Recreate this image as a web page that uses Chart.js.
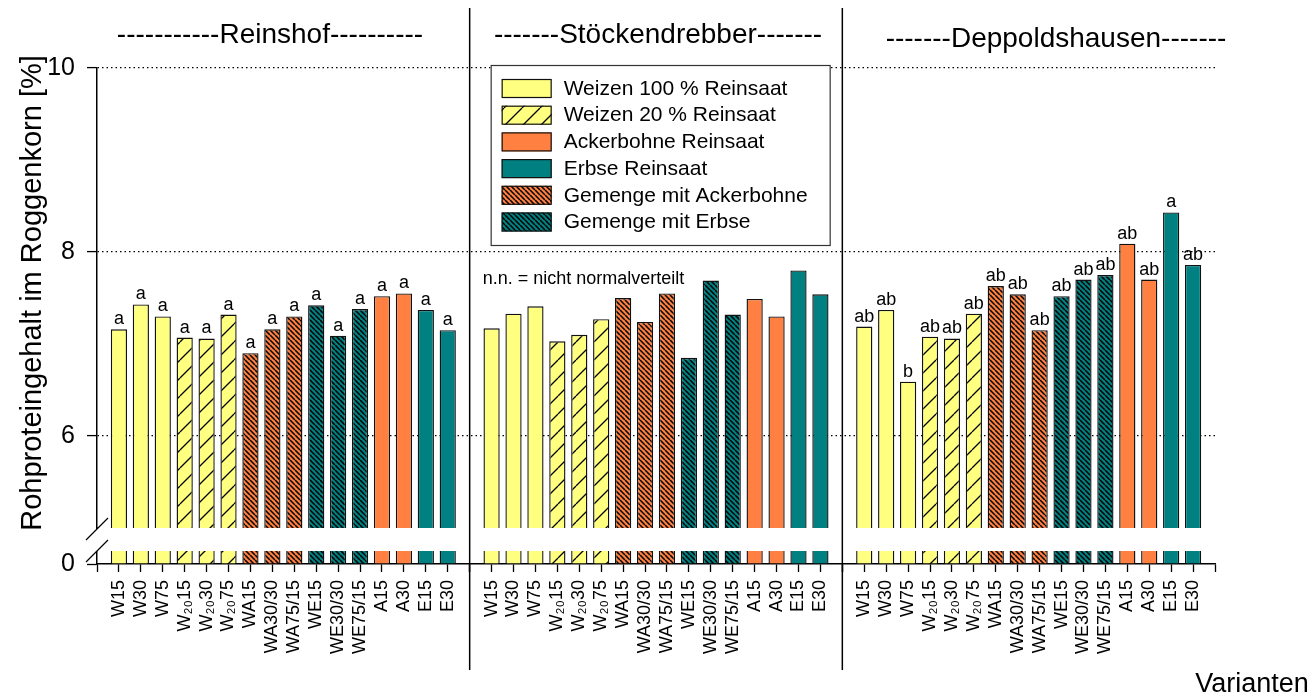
<!DOCTYPE html>
<html lang="de">
<head>
<meta charset="utf-8">
<title>Rohproteingehalt im Roggenkorn</title>
<script src="https://cdn.jsdelivr.net/npm/chart.js@4/dist/chart.umd.min.js"></script>
<style>
  html, body { margin: 0; padding: 0; background: #fff; }
  #chart { display: block; }
</style>
</head>
<body>
<canvas id="chart" width="1314" height="700"></canvas>
<script>
// Varianten (gleich für alle drei Standorte)
const varianten = ['W15', 'W30', 'W75', 'W\u2082\u208015', 'W\u2082\u208030', 'W\u2082\u208075',
  'WA15', 'WA30/30', 'WA75/15', 'WE15', 'WE30/30', 'WE75/15', 'A15', 'A30', 'E15', 'E30'];
const gruppe = ['weizen', 'weizen', 'weizen', 'weizen20', 'weizen20', 'weizen20',
  'gemengeA', 'gemengeA', 'gemengeA', 'gemengeE', 'gemengeE', 'gemengeE',
  'acker', 'acker', 'erbse', 'erbse'];

// Rohproteingehalt [%]
const reinshof = [7.16, 7.43, 7.30, 7.07, 7.06, 7.32, 6.90, 7.16, 7.30, 7.42, 7.09, 7.38, 7.52, 7.55, 7.37, 7.15];
const stoeckendrebber = [7.17, 7.33, 7.41, 7.03, 7.10, 7.27, 7.50, 7.24, 7.55, 6.85, 7.69, 7.32, 7.49, 7.30, 7.80, 7.54];
const deppoldshausen = [7.19, 7.37, 6.59, 7.08, 7.06, 7.33, 7.63, 7.54, 7.15, 7.52, 7.70, 7.75, 8.09, 7.70, 8.43, 7.86];

// Signifikanzbuchstaben
const reinshofBuchstaben = ['a', 'a', 'a', 'a', 'a', 'a', 'a', 'a', 'a', 'a', 'a', 'a', 'a', 'a', 'a', 'a'];
const deppoldshausenBuchstaben = ['ab', 'ab', 'b', 'ab', 'ab', 'ab', 'ab', 'ab', 'ab', 'ab', 'ab', 'ab', 'ab', 'ab', 'a', 'ab'];

const standortTitel = ['-----------Reinshof----------', '-------Stöckendrebber-------', '-------Deppoldshausen-------'];
const obenTicks = [6, 8, 10];
const untenTicks = [0];
const obenMin = 5;
const obenMax = 10;

const legendeEintraege = [
  ['weizen', 'Weizen 100 % Reinsaat'],
  ['weizen20', 'Weizen 20 % Reinsaat'],
  ['acker', 'Ackerbohne Reinsaat'],
  ['erbse', 'Erbse Reinsaat'],
  ['gemengeA', 'Gemenge mit Ackerbohne'],
  ['gemengeE', 'Gemenge mit Erbse'],
];

const FONT = '"Liberation Sans", Arial, Helvetica, sans-serif';
Chart.defaults.font.family = FONT;
Chart.defaults.color = '#000';

const canvas = document.getElementById('chart');
const ctx = canvas.getContext('2d');

function schraffur(farbe, schritt, breite, richtung) {
  const c = document.createElement('canvas');
  c.width = schritt;
  c.height = schritt;
  const g = c.getContext('2d');
  g.fillStyle = farbe;
  g.fillRect(0, 0, schritt, schritt);
  g.strokeStyle = '#000';
  g.lineWidth = breite;
  g.beginPath();
  for (const k of [-schritt, 0, schritt]) {
    if (richtung === '/') {
      g.moveTo(k, schritt);
      g.lineTo(k + schritt, 0);
    } else {
      g.moveTo(k, 0);
      g.lineTo(k + schritt, schritt);
    }
  }
  g.stroke();
  return ctx.createPattern(c, 'repeat');
}

const fuellung = {
  weizen: '#ffff80',
  weizen20: schraffur('#ffff80', 18, 1.3, '/'),
  acker: '#ff8040',
  erbse: '#008080',
  gemengeA: schraffur('#ff8040', 5, 1.5, '\\'),
  gemengeE: schraffur('#008080', 5, 1.5, '\\'),
};

// leere Kategorie links und rechts, damit die Ticks am Panelrand liegen
const pad = (arr) => [null, ...arr, null];

const standorte = [
  { werte: reinshof, buchstaben: reinshofBuchstaben },
  { werte: stoeckendrebber, buchstaben: null },
  { werte: deppoldshausen, buchstaben: deppoldshausenBuchstaben },
];

const datasets = [];
standorte.forEach((s, p) => {
  const gemeinsam = {
    xAxisID: 'x' + (p + 1),
    data: pad(s.werte),
    backgroundColor: pad(gruppe.map((g) => fuellung[g])),
    borderColor: '#111',
    borderWidth: 1.4,
    borderSkipped: 'start',
    grouped: false,
    categoryPercentage: 1,
    barPercentage: 0.74,
  };
  // oberer Achsenabschnitt 5–10
  datasets.push({ ...gemeinsam, yAxisID: 'y', base: obenMin, clip: 0, buchstaben: s.buchstaben ? pad(s.buchstaben) : null });
  // Stummel unterhalb des Achsenbruchs
  datasets.push({ ...gemeinsam, yAxisID: 'y0', clip: { left: 0, right: 0, bottom: 0, top: -23 } });
});

function xAchse() {
  return {
    type: 'category',
    position: 'bottom',
    stack: 'standorte',
    stackWeight: 1,
    offset: false,
    grid: { offset: false, drawOnChartArea: false, tickLength: 8, tickColor: '#000', tickWidth: 1.3 },
    border: { display: true, color: '#000', width: 1.5 },
    ticks: { autoSkip: false, minRotation: 90, maxRotation: 90, padding: 8, color: '#000', font: { size: 18 } },
    afterFit: (scale) => { scale.height = 136; },
  };
}

const zusatz = {
  id: 'zusatz',
  afterDatasetsDraw(chart) {
    const c = chart.ctx;
    c.save();
    c.fillStyle = '#000';
    c.font = '18px ' + FONT;
    c.textAlign = 'center';
    c.textBaseline = 'alphabetic';
    chart.data.datasets.forEach((ds, di) => {
      if (!ds.buchstaben) return;
      chart.getDatasetMeta(di).data.forEach((bar, i) => {
        const t = ds.buchstaben[i];
        if (t) c.fillText(t, bar.x, bar.y - 5);
      });
    });
    c.restore();
  },
  afterDraw(chart) {
    const c = chart.ctx;
    const { y, y0, x2, x3 } = chart.scales;
    const ax = y.right;

    // Achsenbruch
    const bruchOben = y.bottom + 1;
    const bruchUnten = y0.top + 23;
    c.save();
    c.fillStyle = '#fff';
    c.fillRect(ax - 2, bruchOben, 4, bruchUnten - bruchOben);
    c.strokeStyle = '#000';
    c.lineWidth = 1.2;
    c.beginPath();
    for (const yy of [bruchOben, bruchUnten]) {
      c.moveTo(ax - 11, yy + 11);
      c.lineTo(ax + 11, yy - 11);
    }
    c.stroke();

    // Trennlinien zwischen den Standorten
    c.lineWidth = 1.5;
    c.beginPath();
    for (const xx of [x2.left, x3.left]) {
      c.moveTo(xx, 8);
      c.lineTo(xx, 670);
    }
    c.stroke();

    // Standorttitel
    c.fillStyle = '#000';
    c.font = '28px ' + FONT;
    c.textAlign = 'center';
    c.textBaseline = 'alphabetic';
    const titelX = [270, 658, 1056];
    const titelY = [43, 43, 47];
    standortTitel.forEach((t, i) => c.fillText(t, titelX[i], titelY[i]));

    // Achsentitel
    c.font = '27px ' + FONT;
    c.fillText('Varianten', 1252, 692);
    c.font = '29px ' + FONT;
    c.save();
    c.translate(41, 293);
    c.rotate(-Math.PI / 2);
    c.fillText('Rohproteingehalt im Roggenkorn [%]', 0, 0);
    c.restore();

    c.font = '18px ' + FONT;
    c.textAlign = 'left';
    c.fillText('n.n. = nicht normalverteilt', x2.left + 13, 284);

    // Legende
    const lx = x2.left + 21;
    const ly = 65;
    c.fillStyle = '#fff';
    c.fillRect(lx, ly, 339, 180);
    c.strokeStyle = '#333';
    c.lineWidth = 1.2;
    c.strokeRect(lx + 0.5, ly + 0.5, 339, 180);
    c.font = '21px ' + FONT;
    c.textBaseline = 'middle';
    legendeEintraege.forEach(([key, text], i) => {
      const ry = ly + 14 + i * 26.7;
      c.fillStyle = fuellung[key];
      c.fillRect(lx + 11, ry, 50, 19);
      c.strokeStyle = '#111';
      c.strokeRect(lx + 11.5, ry + 0.5, 49, 18);
      c.fillStyle = '#000';
      c.fillText(text, lx + 73, ry + 10);
    });
    c.restore();
  },
};

new Chart(canvas, {
  type: 'bar',
  data: { labels: pad(varianten).map((v) => v || ''), datasets },
  options: {
    responsive: false,
    animation: false,
    events: [],
    layout: { padding: { left: 0, right: 99, top: 68, bottom: 0 } },
    plugins: { legend: { display: false }, tooltip: { enabled: false } },
    scales: {
      x1: xAchse(),
      x2: xAchse(),
      x3: xAchse(),
      y0: {
        type: 'linear',
        position: 'left',
        stack: 'rp',
        stackWeight: 36,
        min: 0,
        max: 1,
        afterBuildTicks: (scale) => { scale.ticks = untenTicks.map((v) => ({ value: v })); },
        grid: { drawOnChartArea: false, tickLength: 10, tickColor: '#000', tickWidth: 1.3 },
        border: { display: true, color: '#000', width: 1.5 },
        ticks: { padding: 12, color: '#000', font: { size: 25 } },
        afterFit: (scale) => { scale.width = 97; },
      },
      y: {
        type: 'linear',
        position: 'left',
        stack: 'rp',
        stackWeight: 460,
        min: obenMin,
        max: obenMax,
        beginAtZero: false,
        afterBuildTicks: (scale) => { scale.ticks = obenTicks.map((v) => ({ value: v })); },
        grid: { color: '#000', lineWidth: 1.2, tickLength: 10, tickColor: '#000', tickWidth: 1.3 },
        border: { display: true, color: '#000', width: 1.5, dash: [1.5, 3] },
        ticks: { padding: 12, color: '#000', font: { size: 25 } },
        afterFit: (scale) => { scale.width = 97; },
      },
    },
  },
  plugins: [zusatz],
});
</script>
</body>
</html>
